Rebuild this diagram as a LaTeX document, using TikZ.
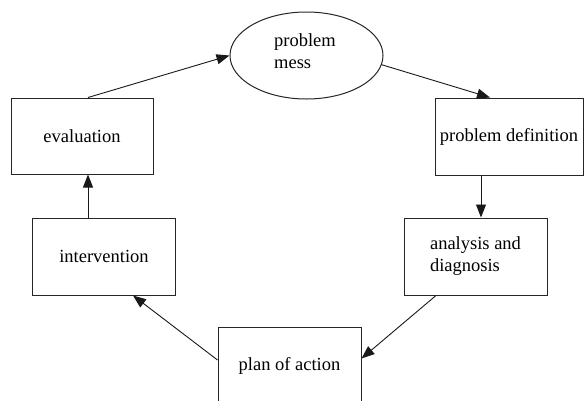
\documentclass[tikz,border=0pt]{standalone}
\usepackage{fontspec}
\setmainfont{Liberation Serif}
\usetikzlibrary{arrows.meta,shapes.geometric}
\tikzset{
  stage/.style={draw=black!85,line width=1pt,minimum width=143pt,minimum height=77pt,inner sep=0pt,align=left,font=\fontsize{18.5}{22}\selectfont},
  link/.style={draw=black!90,line width=0.9pt,-{Triangle[length=13pt,width=10pt]}}
}
\begin{document}
\begin{tikzpicture}[x=1pt,y=-1pt]
				% Page frame
				\useasboundingbox (0,0) rectangle (586,400);
				
				% The starting ellipse
				\node[draw=black!85,line width=1pt,ellipse,minimum width=153pt,minimum height=87pt,inner sep=0pt] (mess) at (306.5,55.5) {};
				\node[align=left,inner sep=0pt,font=\fontsize{18.5}{22}\selectfont] (messtext) at (305,51) {problem\\mess};
				
				% The five stages of the cycle
				\node[stage,minimum width=148pt] (probdef) at (509,136.5) {problem definition};
				\node[stage] (analysis) at (475.5,256.5) {analysis and\\diagnosis};
				\node[stage] (plan) at (289.5,365.5) {plan of action};
				\node[stage] (interv) at (104,256.5) {intervention};
				\node[stage,minimum width=142pt,minimum height=76pt] (eval) at (82,136) {evaluation};
				
				% Arrows round the cycle
				\draw[link] (mess.-7) -- ([xshift=-19pt]probdef.north);
				\draw[link] ([xshift=5.5pt]analysis.north |- probdef.south) -- ([xshift=5.5pt]analysis.north);
				\draw[link] ([xshift=-39.5pt]analysis.south) -- ([yshift=7pt]plan.east);
				\draw[link] ([yshift=5.5pt]plan.west) -- ([xshift=29pt]interv.south);
				\draw[link] ([xshift=6pt]eval.south |- interv.north) -- ([xshift=6pt]eval.south);
				\draw[link] ([xshift=6pt]eval.north) -- (mess.west);
\end{tikzpicture}
\end{document}
